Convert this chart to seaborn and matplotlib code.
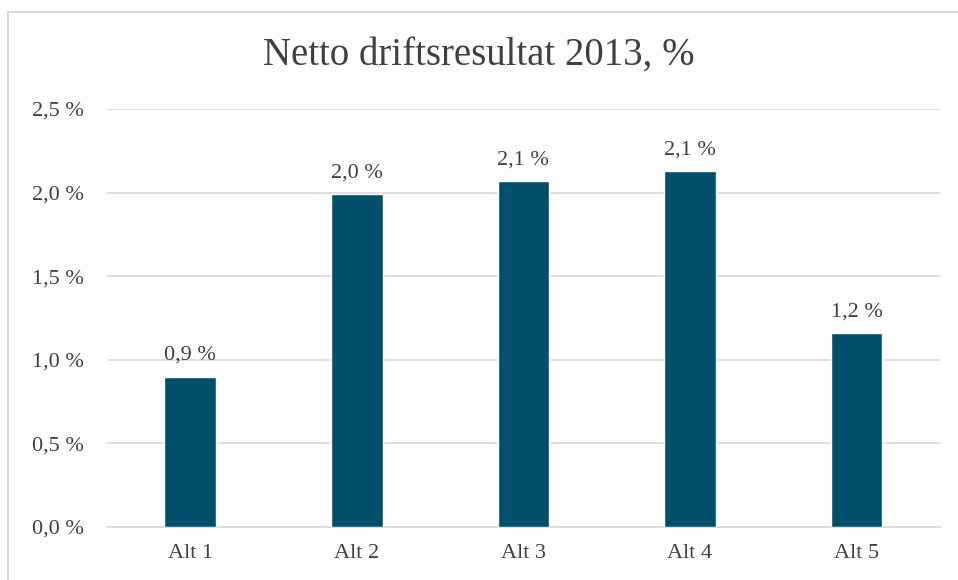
import matplotlib
matplotlib.use("Agg")
import matplotlib.pyplot as plt
import seaborn as sns
import pandas as pd
from matplotlib.patches import Rectangle

categories = ["Alt 1", "Alt 2", "Alt 3", "Alt 4", "Alt 5"]
values = [0.90, 1.99, 2.07, 2.13, 1.16]
labels = ["0,9 %", "2,0 %", "2,1 %", "2,1 %", "1,2 %"]
yticks = [0.0, 0.5, 1.0, 1.5, 2.0, 2.5]
ytick_labels = ["0,0 %", "0,5 %", "1,0 %", "1,5 %", "2,0 %", "2,5 %"]

sns.set_style("white")
plt.rcParams["font.family"] = ["Liberation Serif", "DejaVu Serif"]

df = pd.DataFrame({"cat": categories, "val": values})

fig = plt.figure(figsize=(9.58, 5.8), dpi=100)
ax = fig.add_axes([0.1117, 0.0914, 0.8693, 0.7206])

sns.barplot(data=df, x="cat", y="val", color="#00506B", width=0.31,
            saturation=1, ax=ax, zorder=3)

for i, (v, t) in enumerate(zip(values, labels)):
    ax.text(i, v + 0.07, t, ha="center", va="bottom", fontsize=16, color="#404040")

ax.set_ylim(0, 2.5)
ax.set_xlim(-0.5, 4.5)
ax.set_yticks(yticks)
ax.set_yticklabels(ytick_labels, fontsize=16, color="#404040")
ax.tick_params(axis="x", labelsize=16, labelcolor="#404040", length=0, pad=12)
ax.tick_params(axis="y", length=0, pad=17)
ax.set_xlabel("")
ax.set_ylabel("")
ax.yaxis.grid(True, color="#d9d9d9", linewidth=1.2, zorder=0)
ax.set_axisbelow(True)
for s in ["top", "right", "left"]:
    ax.spines[s].set_visible(False)
ax.spines["bottom"].set_color("#d9d9d9")
ax.spines["bottom"].set_linewidth(1.2)

fig.text(0.5, 0.905, "Netto driftsresultat 2013, %", ha="center", va="center",
         fontsize=28, color="#404040")

fig.patches.append(Rectangle((8 / 958, -0.1), 1.2, 1.1 - 12 / 580, transform=fig.transFigure,
                             fill=False, edgecolor="#d9d9d9", linewidth=1.5))

fig.savefig("out.png", dpi=100)
